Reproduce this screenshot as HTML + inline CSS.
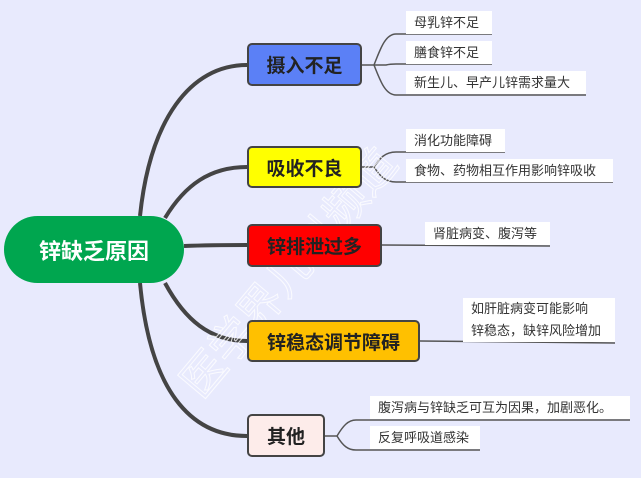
<!DOCTYPE html>
<html><head><meta charset="utf-8"><style>
body{margin:0;width:641px;height:478px;background:#e8eafd;overflow:hidden;position:relative;font-family:"Liberation Sans","Noto Sans CJK SC",sans-serif}
.n{position:absolute;box-sizing:border-box;border:2px solid #444;border-radius:5px;font-weight:bold;font-size:19px;color:#222;display:flex;align-items:center;justify-content:center}
.l{position:absolute;background:#fff;font-size:13px;color:#333;padding:0 8px;line-height:23px;box-sizing:border-box}
svg{position:absolute;left:0;top:0}
</style></head><body>
<svg width="641" height="478">
<g fill="none" stroke="#444" stroke-width="4">
<path d="M140 216 C150 120 190 65 247 65"/>
<path d="M165 218 C185 185 210 167 247 167"/>
<path d="M184 246 C210 245 230 245 247 245"/>
<path d="M165 283 C185 320 210 341 247 341"/>
<path d="M140 283 C150 390 190 436 247 436"/>
</g>
<g fill="none" stroke="#555" stroke-width="1.5">
<path d="M362 65 L374 65 C380 50 385 34 396 34 L492 34"/>
<path d="M374 65 L386 65 C390 64 393 64 396 64 L492 64"/>
<path d="M374 65 C380 80 385 95 396 95 L586 95"/>
<path d="M362 167 L374 167 C380 158 385 152 396 152 L505 152"/>
<path d="M374 167 C380 176 385 182 396 182 L613 182"/>
<path d="M382 245 L550 246"/>
<path d="M420 341 L615 343"/>
<path d="M325 436 L337 436 C343 426 348 420 356 420 L630 420"/>
<path d="M337 436 C343 446 348 450 356 450 L480 450"/>
</g>
<text x="150" y="350" transform="rotate(-50 230 320)" font-family="Noto Sans CJK SC" font-size="44" fill="none" stroke="#fff" stroke-width="1" opacity=".8">医学界儿科频道</text>
</svg>
<div class="n" style="left:4px;top:216px;width:180px;height:67px;background:#00a64f;border:none;border-radius:34px;color:#fff;font-size:22px">锌缺乏原因</div>
<div class="n" style="left:247px;top:43px;width:115px;height:43px;background:#5b80f6">摄入不足</div>
<div class="n" style="left:247px;top:146px;width:115px;height:42px;background:#ffff00">吸收不良</div>
<div class="n" style="left:247px;top:224px;width:135px;height:43px;background:#ff0000">锌排泄过多</div>
<div class="n" style="left:247px;top:320px;width:173px;height:42px;background:#ffc000">锌稳态调节障碍</div>
<div class="n" style="left:247px;top:414px;width:78px;height:43px;background:#fdecea">其他</div>
<div class="l" style="left:406px;top:11px;width:86px">母乳锌不足</div>
<div class="l" style="left:406px;top:41px;width:86px">膳食锌不足</div>
<div class="l" style="left:406px;top:71px;width:180px">新生儿、早产儿锌需求量大</div>
<div class="l" style="left:406px;top:129px;width:99px">消化功能障碍</div>
<div class="l" style="left:406px;top:159px;width:207px">食物、药物相互作用影响锌吸收</div>
<div class="l" style="left:425px;top:222px;width:125px">肾脏病变、腹泻等</div>
<div class="l" style="left:463px;top:298px;width:152px;line-height:22px">如肝脏病变可能影响<br>锌稳态，缺锌风险增加</div>
<div class="l" style="left:370px;top:396px;width:260px">腹泻病与锌缺乏可互为因果，加剧恶化。</div>
<div class="l" style="left:370px;top:426px;width:110px">反复呼吸道感染</div>
</body></html>
